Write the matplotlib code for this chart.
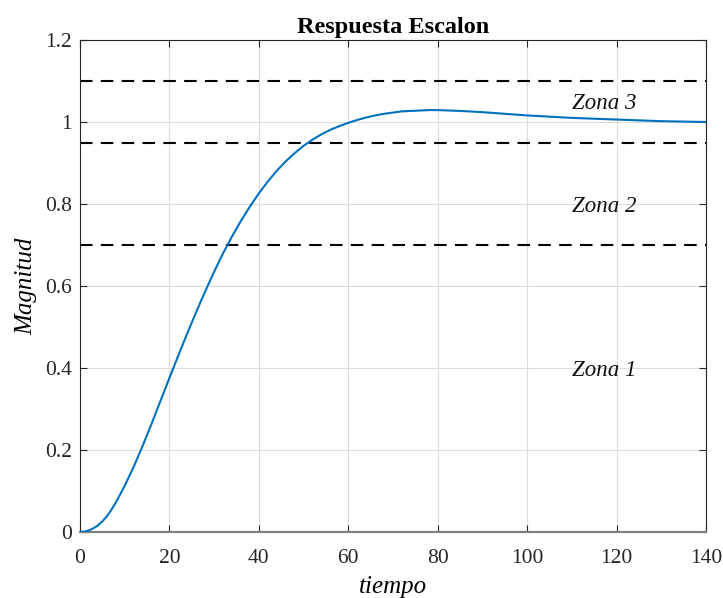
"""Respuesta escalon con zonas de referencia."""

import matplotlib
matplotlib.use("Agg")
import matplotlib.pyplot as plt

# valores
tiempo = [0, 1, 2, 3, 4, 5, 6, 7, 8, 9, 10, 12, 14, 16, 18, 20, 22, 24, 26,
          28, 30, 32, 34, 36, 38, 40, 42, 44, 46, 48, 50, 52, 54, 56, 58, 60,
          62, 64, 66, 68, 70, 72, 74, 76, 78, 80, 85, 90, 95, 100, 105, 110,
          115, 120, 125, 130, 135, 140]
magnitud = [0.0, 0.001, 0.004, 0.009, 0.016, 0.026, 0.038, 0.054, 0.072,
            0.092, 0.113, 0.159, 0.210, 0.264, 0.320, 0.376, 0.431, 0.485,
            0.537, 0.587, 0.635, 0.680, 0.721, 0.759, 0.794, 0.826, 0.855,
            0.881, 0.904, 0.924, 0.942, 0.957, 0.970, 0.981, 0.990, 0.998,
            1.005, 1.011, 1.016, 1.020, 1.023, 1.026, 1.027, 1.028, 1.029,
            1.029, 1.027, 1.024, 1.020, 1.016, 1.013, 1.010, 1.008, 1.006,
            1.004, 1.002, 1.001, 1.000]

limites_zona = [0.7, 0.95, 1.1]
zona_nombres = ["Zona 1", "Zona 2", "Zona 3"]
zona_x = [110, 110, 110]
zona_y = [0.395, 0.795, 1.045]

x_ticks = [0, 20, 40, 60, 80, 100, 120, 140]
y_ticks = [0, 0.2, 0.4, 0.6, 0.8, 1.0, 1.2]
y_tick_labels = ["0", "0.2", "0.4", "0.6", "0.8", "1", "1.2"]

plt.rcParams["font.family"] = ["Liberation Serif", "DejaVu Serif"]

fig = plt.figure(figsize=(7.23, 5.98), dpi=100)
ax = fig.add_axes([0.1107, 0.1104, 0.8658, 0.8227])

ax.plot(tiempo, magnitud, color="#0072BD", lw=1.5, zorder=3)
for nivel in limites_zona:
    ax.axhline(nivel, color="black", lw=1.5, ls=(0, (6, 4)), zorder=2)
for nombre, x, y in zip(zona_nombres, zona_x, zona_y):
    ax.text(x, y, nombre, fontsize=16.5, style="italic", ha="left",
            va="center", color="#111111")

ax.set_xlim(0, 140)
ax.set_ylim(0, 1.2)
ax.set_xticks(x_ticks)
ax.set_yticks(y_ticks)
ax.set_yticklabels(y_tick_labels)
ax.grid(True, color="#dcdcdc", lw=0.8)
ax.set_axisbelow(True)
ax.tick_params(direction="in", top=True, right=True, labelsize=15.5,
               colors="#262626", length=5, width=0.8)
ax.tick_params(axis="x", pad=12)
ax.tick_params(axis="y", pad=6)
for spine in ax.spines.values():
    spine.set_color("#262626")
    spine.set_linewidth(0.8)
ax.spines["bottom"].set_color("#808080")
ax.spines["bottom"].set_linewidth(1.6)

ax.set_title("Respuesta Escalon", fontsize=17.5, fontweight="bold", pad=5)
ax.set_xlabel("tiempo", fontsize=18, style="italic", labelpad=6)
ax.set_ylabel("Magnitud", fontsize=18, style="italic", labelpad=5)

fig.savefig("out.png", dpi=100)
